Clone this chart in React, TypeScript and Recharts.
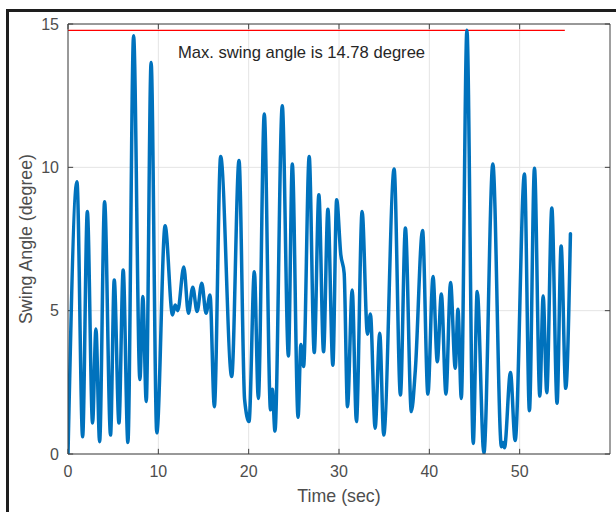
import React from 'react';
import { LineChart, Line, XAxis, YAxis, CartesianGrid, ReferenceLine, ReferenceDot } from 'recharts';

const timeSec = [
  0, 0.99, 1.62, 2.14, 2.72, 3.09, 3.5, 4.05, 4.71, 5.12, 5.64, 6.11, 6.63, 7.26, 7.96, 8.29, 8.66, 9.2, 9.83,
  10.75, 11.57, 11.86, 12.15, 12.82, 13.33, 13.81, 14.29, 14.81, 15.28, 15.72, 16.2, 16.9, 18.12, 18.93, 19.55,
  20.04, 20.63, 21.07, 21.73, 22.42, 22.62, 22.91, 23.72, 24.4, 24.83, 25.47, 25.78, 26.08, 26.7, 27.26, 27.77,
  28.29, 28.77, 29.32, 29.74, 30.2, 30.57, 30.94, 31.46, 31.93, 32.56, 33.15, 33.48, 34.0, 34.51, 34.95, 36.1,
  36.8, 37.35, 38.01, 38.45, 39.25, 39.84, 40.41, 40.88, 41.33, 41.84, 42.35, 42.87, 43.17, 43.54, 44.16, 44.86,
  45.3, 46.04, 47.03, 47.98, 48.15, 48.32, 48.98, 49.5, 50.53, 51.08, 51.64, 52.23, 52.6, 53.0, 53.56, 54.14,
  54.59, 55.1, 55.62,
];
const swingDeg = [
  0, 9.5, 0.6, 8.46, 1.08, 4.36, 0.43, 8.8, 0.66, 6.07, 1.08, 6.42, 0.4, 14.59, 2.6, 5.49, 1.83, 13.66, 0.74,
  7.96, 4.85, 5.2, 5.0, 6.52, 4.91, 5.82, 4.97, 5.96, 4.91, 5.55, 1.65, 10.38, 2.7, 10.24, 1.9,
  1.13, 6.36, 1.94, 11.86, 1.54, 2.26, 0.8, 12.15, 3.42, 10.12, 1.28, 3.82, 3.05, 10.38, 3.54, 9.04,
  3.57, 8.54, 3.1, 8.87, 6.95, 6.31, 1.65, 5.72, 1.13, 8.46, 4.18, 4.88, 0.9, 4.21, 0.66, 9.94,
  2.06, 7.88, 1.48, 2.93, 7.8, 2.09, 6.19, 3.22, 5.58, 2.09, 5.98, 2.99, 5.05, 1.94, 14.78, 0.37,
  5.67, 0.02, 10.12, 0.25, 0.4, 0.22, 2.84, 0.47, 9.77, 1.51, 9.97, 2.02, 5.51, 2.14, 8.58, 1.77,
  7.26, 2.29, 7.68,
];
const xTicks = [0, 10, 20, 30, 40, 50];
const yTicks = [0, 5, 10, 15];
const xDomain: [number, number] = [0, 60];
const yDomain: [number, number] = [0, 15];
const maxAngle = 14.78;
const maxLineEnd = 55;
const annotationText = 'Max. swing angle is 14.78 degree';
const annotationAt = { t: 25.85, v: 14.03 };

const data = timeSec.map((t, i) => ({ t, v: swingDeg[i] }));

const FONT = '"Liberation Sans", Arial, Helvetica, sans-serif';
const AXIS_COLOR = '#404040';
const TICK_COLOR = '#4d4d4d';

export default function App() {
  const tickStyle = { fontSize: 16, fill: TICK_COLOR, fontFamily: FONT };
  return (
    <div style={{ position: 'fixed', left: 0, top: 0, width: 616, height: 512, background: '#fff', overflow: 'hidden' }}>
      <div
        style={{
          position: 'absolute',
          left: 6,
          top: 9,
          width: 640,
          height: 600,
          borderLeft: '3px solid #1e1e1e',
          borderTop: '3px solid #1e1e1e',
          boxSizing: 'border-box',
        }}
      />
      <div style={{ position: 'absolute', left: 0, top: 0 }}>
        <LineChart width={616} height={512} data={data} margin={{ top: 24, right: 6, bottom: 0, left: 0 }}>
          <CartesianGrid stroke="#e4e4e4" strokeWidth={1} verticalValues={xTicks} horizontalValues={yTicks} />
          <XAxis
            dataKey="t"
            type="number"
            domain={xDomain}
            ticks={xTicks}
            height={58}
            tickSize={0}
            tickMargin={12}
            tick={tickStyle}
            axisLine={{ stroke: AXIS_COLOR, strokeWidth: 1 }}
            tickLine={false}
            allowDataOverflow
            label={{ value: 'Time (sec)', position: 'insideBottom', offset: 10, style: { fontSize: 17.8, fill: TICK_COLOR, fontFamily: FONT } }}
          />
          <YAxis
            type="number"
            domain={yDomain}
            ticks={yTicks}
            width={68}
            tickSize={0}
            tickMargin={9}
            tick={tickStyle}
            axisLine={{ stroke: AXIS_COLOR, strokeWidth: 1 }}
            tickLine={false}
            allowDataOverflow
            label={{ value: 'Swing Angle (degree)', angle: -90, position: 'insideLeft', offset: 26, style: { textAnchor: 'middle', fontSize: 17.8, fill: TICK_COLOR, fontFamily: FONT } }}
          />
          <ReferenceLine y={15} stroke={AXIS_COLOR} strokeWidth={1} />
          <ReferenceLine x={60} stroke={AXIS_COLOR} strokeWidth={1} />
          {xTicks.map((t) => (
            <ReferenceLine key={'bt' + t} segment={[{ x: t, y: 0 }, { x: t, y: 0.18 }]} stroke={AXIS_COLOR} strokeWidth={1} />
          ))}
          {xTicks.map((t) => (
            <ReferenceLine key={'tt' + t} segment={[{ x: t, y: 15 }, { x: t, y: 14.82 }]} stroke={AXIS_COLOR} strokeWidth={1} />
          ))}
          {yTicks.map((v) => (
            <ReferenceLine key={'lt' + v} segment={[{ x: 0, y: v }, { x: 0.57, y: v }]} stroke={AXIS_COLOR} strokeWidth={1} />
          ))}
          {yTicks.map((v) => (
            <ReferenceLine key={'rt' + v} segment={[{ x: 60, y: v }, { x: 59.43, y: v }]} stroke={AXIS_COLOR} strokeWidth={1} />
          ))}
          <ReferenceLine segment={[{ x: 0, y: maxAngle }, { x: maxLineEnd, y: maxAngle }]} stroke="#ff0000" strokeWidth={1.2} />
          <Line
            type="monotone"
            dataKey="v"
            stroke="#0072BD"
            strokeWidth={3.5}
            dot={false}
            activeDot={false}
            isAnimationActive={false}
            strokeLinejoin="round"
            strokeLinecap="round"
          />
          <ReferenceDot
            x={annotationAt.t}
            y={annotationAt.v}
            r={0}
            fill="none"
            stroke="none"
            label={{ value: annotationText, position: 'center', style: { fontSize: 16.6, fill: '#262626', fontFamily: FONT } }}
          />
        </LineChart>
      </div>
    </div>
  );
}
